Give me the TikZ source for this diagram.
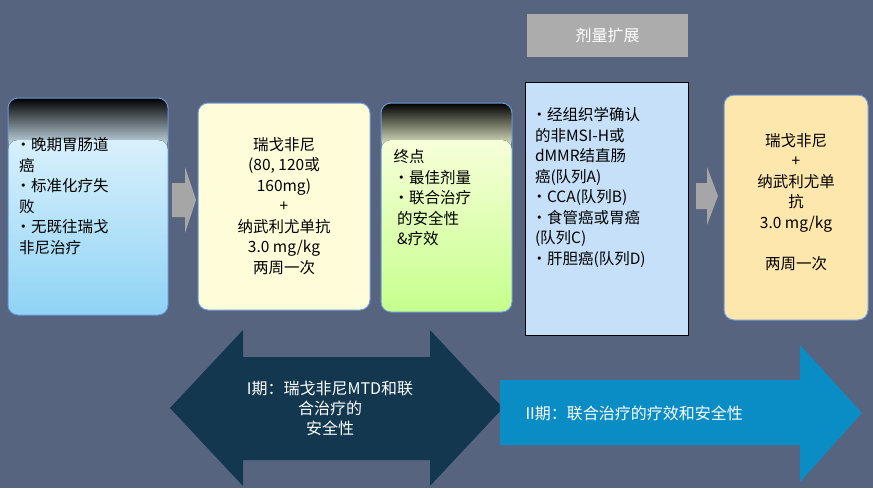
\documentclass[tikz,border=0pt]{standalone}
\usepackage{fontspec}
\setmainfont{Noto Sans CJK SC}
\definecolor{bg}{HTML}{56647F}
\definecolor{darkarr}{HTML}{12374F}
\definecolor{bluearr}{HTML}{0A8CC4}
\definecolor{b4c}{HTML}{C5E0F8}
\definecolor{b1top}{HTML}{D8F0FC}
\definecolor{b1bot}{HTML}{8FD3F5}
\tikzset{txt/.style={font=\fontsize{15.5}{20.5}\selectfont, align=center, text=black},
rbox/.style={rounded corners=10pt, draw=cyan!50!blue!60, line width=1pt},
garrow/.style={fill=gray!70, draw=none}}
\begin{document}
\begin{tikzpicture}[x=1pt,y=-1pt]
\fill[bg] (0,0) rectangle (873,488);
\useasboundingbox (0,0) rectangle (873,488);
% label
\node[fill=gray!65, minimum width=161pt, minimum height=43pt, text=white, font=\fontsize{16}{18}\selectfont] (lab) at (607.5,35.5) {剂量扩展};
% box 1
\fill[rounded corners=10pt, top color=black, bottom color=b1top] (8,98) rectangle (168,150);
\fill[rounded corners=10pt, top color=b1top, bottom color=b1bot] (8,140) rectangle (168,315);
\draw[rbox] (8,98) rectangle (168,315);
\node[txt, align=left, anchor=north west] (b1) at (12,134) {•晚期胃肠道\\\ 癌\\•标准化疗失\\\ 败\\•无既往瑞戈\\\ 非尼治疗};
% box 2
\draw[rbox, fill=yellow!15] (198,103) rectangle (370,310);
\node[txt] (b2) at (284,206) {瑞戈非尼\\(80, 120或\\160mg)\\+\\纳武利尤单抗\\3.0 mg/kg\\两周一次};
% box 3
\fill[rounded corners=10pt, top color=black, bottom color=green!25!yellow!15] (381,103) rectangle (512,150);
\fill[rounded corners=10pt, top color=green!20!yellow!15, bottom color=green!50!yellow!45] (381,140) rectangle (512,312);
\draw[rbox] (381,103) rectangle (512,312);
\node[txt, align=left, anchor=north west] (b3) at (390,146) {终点\\•最佳剂量\\•联合治疗\\\ 的安全性\\\ \&疗效};
% box 4
\draw[black, line width=1pt, fill=b4c] (525,82) rectangle (688,335);
\node[txt, align=left, anchor=north west] (b4) at (528,104) {•经组织学确认\\\ 的非MSI-H或\\\ dMMR结直肠\\\ 癌(队列A)\\•CCA(队列B)\\•食管癌或胃癌\\\ (队列C)\\•肝胆癌(队列D)};
% box 5
\draw[rbox, fill=yellow!45!orange!30] (724,95) rectangle (868,320);
\node[txt] (b5) at (796,202) {瑞戈非尼\\+\\纳武利尤单\\抗\\3.0 mg/kg\\\\两周一次};
% gray arrows
\fill[garrow] (172,183) -- (185,183) -- (185,167) -- (196,200) -- (185,233) -- (185,217) -- (172,217) -- cycle;
\fill[garrow] (696,183) -- (707,183) -- (707,167) -- (718,196) -- (707,225) -- (707,209) -- (696,209) -- cycle;
% bottom arrows
\fill[darkarr] (170,408) -- (243,330) -- (243,357) -- (430,357) -- (430,330) -- (503,408) -- (430,486) -- (430,460) -- (243,460) -- (243,486) -- cycle;
\node[text=white, font=\fontsize{16}{20}\selectfont, align=center] (p1) at (330,408) {I期：瑞戈非尼MTD和联\\合治疗的\\安全性};
\fill[bluearr] (500,380) -- (800,380) -- (800,345) -- (862,413) -- (800,482) -- (800,445) -- (500,445) -- cycle;
\node[text=white, font=\fontsize{16}{20}\selectfont, anchor=west] (p2) at (522,413) {II期：联合治疗的疗效和安全性};
\end{tikzpicture}
\end{document}
